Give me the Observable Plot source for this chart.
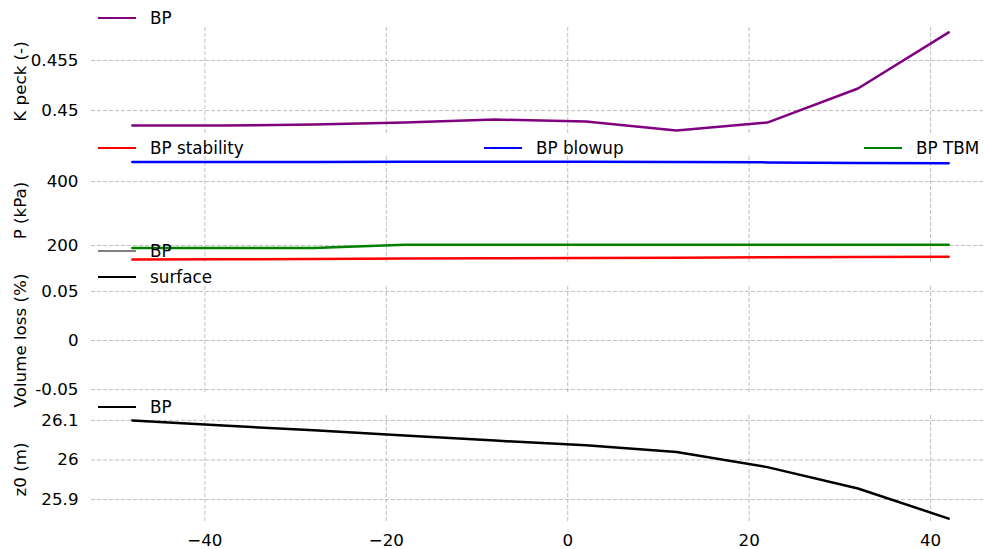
<!DOCTYPE html>
<html><head><meta charset="utf-8">
<script src="https://cdn.jsdelivr.net/npm/d3@7"></script>
<script src="https://cdn.jsdelivr.net/npm/@observablehq/plot@0.6"></script>
<style>
body{margin:0;background:#fff;}
#chart{position:relative;width:984px;height:549px;overflow:hidden;background:#fff;font-family:"DejaVu Sans",sans-serif;}
#chart svg{position:absolute;left:0;top:0;}
.lg-line{position:absolute;height:2.5px;width:38px;}
.lg-text{position:absolute;font-size:16.8px;line-height:20px;white-space:nowrap;color:#000;font-family:"DejaVu Sans",sans-serif;}
</style></head><body><div id="chart"></div>
<script>
// shared x positions (chainage)
const xValues = [-48, -38, -28, -18, -8, 2, 12, 22, 32, 42];
const xTicks = [-40, -20, 0, 20, 40];

// Panel 1: K peck (-)
const kPeckBP = [0.4485, 0.4485, 0.4486, 0.4488, 0.4491, 0.4489, 0.4480, 0.4488, 0.4522, 0.4578];
const kPeckTicks = [0.45, 0.455];

// Panel 2: P (kPa)
const pStability = [156, 157, 158, 159, 160, 161, 162, 163, 164, 165];
const pBlowup = [461, 461, 461, 462, 462, 462, 461, 460, 458, 457];
const pTBM = [192, 192, 192, 202, 202, 202, 202, 202, 202, 202];
const pTicks = [200, 400];

// Panel 3: Volume loss (%) – no finite values plotted
const volLossBP = [];
const volLossSurface = [];
const volTicks = [-0.05, 0, 0.05];

// Panel 4: z0 (m)
const z0BP = [26.100, 26.087, 26.075, 26.062, 26.049, 26.037, 26.020, 25.982, 25.928, 25.852];
const z0Ticks = [25.9, 26, 26.1];

const W = 984, H = 549;
const FS = 16.7;
const gridStyle = {stroke: "#b0b0b0", strokeOpacity: 1, strokeWidth: 0.8, strokeDasharray: "4,2"};

function toRows(values) {
  return values.map((v, i) => ({x: xValues[i], y: v}));
}

function panel({top, bottom, yDomain, yTicks, yLabel, series, showX}) {
  const marks = [
    Plot.gridX(xTicks, gridStyle),
    Plot.gridY(yTicks, gridStyle),
    Plot.axisY(yTicks, {tickSize: 0, tickPadding: 13, tickFormat: d => String(d), fontSize: FS, label: null, fill: "black"}),
    Plot.text([yLabel], {text: d => d, frameAnchor: "left", textAnchor: "middle", lineAnchor: "middle", dx: -71, rotate: -90, fontSize: FS, fill: "black"}),
    ...series.map(s => Plot.line(toRows(s.values), {x: "x", y: "y", stroke: s.color, strokeWidth: 2.5}))
  ];
  if (showX) marks.push(Plot.axisX(xTicks, {tickSize: 0, tickPadding: 11, fontSize: FS, label: null, fill: "black"}));
  return Plot.plot({
    width: W, height: H,
    marginTop: top, marginBottom: H - bottom, marginLeft: 91, marginRight: 0,
    x: {domain: [-52.5, 46.5], range: [91, 989], axis: showX ? undefined : null},
    y: {domain: yDomain},
    style: {background: "transparent", fontFamily: "DejaVu Sans, sans-serif", fontSize: FS + "px", color: "black", overflow: "visible"},
    marks
  });
}

const chart = document.getElementById("chart");
chart.append(panel({top: 27, bottom: 135, yDomain: [0.44751, 0.45829], yTicks: kPeckTicks, yLabel: "K peck (-)",
  series: [{values: kPeckBP, color: "#800080"}]}));
chart.append(panel({top: 156, bottom: 264, yDomain: [140.6, 478.4], yTicks: pTicks, yLabel: "P (kPa)",
  series: [{values: pStability, color: "#ff0000"}, {values: pBlowup, color: "#0000ff"}, {values: pTBM, color: "#008000"}]}));
chart.append(panel({top: 286, bottom: 394, yDomain: [-0.055, 0.055], yTicks: volTicks, yLabel: "Volume loss (%)",
  series: [{values: volLossBP, color: "#808080"}, {values: volLossSurface, color: "#000000"}]}));
chart.append(panel({top: 415, bottom: 523, yDomain: [25.8396, 26.1124], yTicks: z0Ticks, yLabel: "z0 (m)",
  series: [{values: z0BP, color: "#000000"}], showX: true}));

// legends
const legendLabels = ["BP", "BP stability", "BP blowup", "BP TBM", "BP", "surface", "BP"];
const legendColors = ["#800080", "#ff0000", "#0000ff", "#008000", "#808080", "#000000", "#000000"];
const legendX = [98, 98, 484, 864, 98, 98, 98];
const legendY = [18, 148, 148, 148, 251, 277, 407];
legendLabels.forEach((lab, i) => {
  const ln = document.createElement("div");
  ln.className = "lg-line";
  ln.style.left = legendX[i] + "px";
  ln.style.top = (legendY[i] - 1.25) + "px";
  ln.style.background = legendColors[i];
  chart.append(ln);
  const t = document.createElement("div");
  t.className = "lg-text";
  t.textContent = lab;
  t.style.left = (legendX[i] + 52) + "px";
  t.style.top = (legendY[i] - 10) + "px";
  chart.append(t);
});
</script>
</body></html>
